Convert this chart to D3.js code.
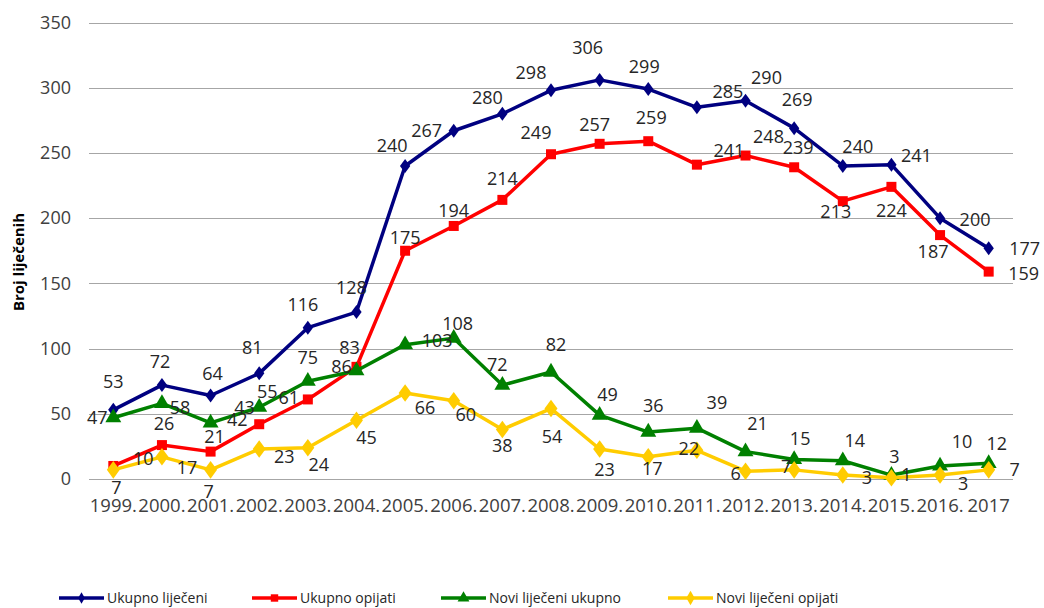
<html>
<head>
<meta charset="utf-8" />
<script src="https://cdnjs.cloudflare.com/ajax/libs/d3/7.8.5/d3.min.js"></script>
<style>
	body { margin: 0; background: #fff; }
	text { font-family: "Open Sans", sans-serif; }
</style>
</head>
<body>
<div id="chart"></div>
<script>

// ---- data ----
var years = ["1999.", "2000.", "2001.", "2002.", "2003.", "2004.", "2005.", "2006.", "2007.", "2008.",
	"2009.", "2010.", "2011.", "2012.", "2013.", "2014.", "2015.", "2016.", "2017"];

var ukupnoLijeceni = [53, 72, 64, 81, 116, 128, 240, 267, 280, 298, 306, 299, 285, 290, 269, 240, 241, 200, 177];
var ukupnoOpijati  = [10, 26, 21, 42, 61, 86, 175, 194, 214, 249, 257, 259, 241, 248, 239, 213, 224, 187, 159];
var noviUkupno     = [47, 58, 43, 55, 75, 83, 103, 108, 72, 82, 49, 36, 39, 21, 15, 14, 3, 10, 12];
var noviOpijati    = [7, 17, 7, 23, 24, 45, 66, 60, 38, 54, 23, 17, 22, 6, 7, 3, 1, 3, 7];

var seriesNames = ["Ukupno liječeni", "Ukupno opijati", "Novi liječeni ukupno", "Novi liječeni opijati"];
var yTicks = [0, 50, 100, 150, 200, 250, 300, 350];

// label nudges (dx, dy) as they sit in the original, one per point
var labelNudge = [
	[[0,-28],[-2,-23],[2,-22],[-7,-26],[-5,-23],[-5,-24],[-13,-20],[-27,0],[-15,-16],[-20,-18],
	 [-12,-32],[-4,-22],[31,-16],[21,-23],[3,-28],[15,-19],[25,-9],[35,2],[36,1]],
	[[30,-7],[2,-21],[4,-15],[-22,-5],[-19,-2],[-15,0],[0,-13],[0,-15],[0,-21],[-15,-22],
	 [-5,-19],[3,-23],[32,-14],[23,-19],[4,-20],[-7,11],[0,24],[-7,17],[35,2]],
	[[-16,0],[18,4],[34,-15],[8,-16],[0,-23],[-7,-23],[32,-4],[4,-14],[-5,-20],[5,-27],
	 [8,-20],[5,-26],[20,-25],[12,-28],[6,-21],[12,-20],[3,-18],[22,-24],[8,-20]],
	[[3,18],[25,11],[-2,22],[25,8],[11,17],[10,17],[20,15],[12,14],[0,16],[1,28],
	 [5,21],[4,12],[-8,-2],[-10,3],[-8,-3],[24,3],[15,-3],[23,9],[26,0]]
];

var colors = ["#000080", "#ff0000", "#008000", "#ffcc00"];
var symbols = [d3.symbolDiamond, d3.symbolSquare, d3.symbolTriangle, d3.symbolDiamond];
var symSizes = [70, 100, 110, 110];

var allSeries = [ukupnoLijeceni, ukupnoOpijati, noviUkupno, noviOpijati];

var W = 1044, H = 608;
var plotLeft = 89, plotRight = 1013, plotTop = 22.5, plotBottom = 479;

var svg = d3.select("#chart").append("svg")
	.attr("width", W)
	.attr("height", H);

var x = d3.scaleBand()
	.domain(years)
	.range([plotLeft, plotRight]);

var y = d3.scaleLinear()
	.domain([0, 350])
	.range([plotBottom, plotTop]);

var cx = function(i){ return x(years[i]) + x.bandwidth()/2; };

// gridlines
svg.append("g")
	.selectAll("line")
	.data(yTicks)
	.enter()
	.append("line")
	.attr("x1", plotLeft)
	.attr("x2", plotRight)
	.attr("y1", function(d){ return Math.round(y(d)) + 0.5; })
	.attr("y2", function(d){ return Math.round(y(d)) + 0.5; })
	.style("stroke", "#a6a6a6")
	.style("stroke-width", 1);

// y axis labels
var yAxis = d3.axisLeft(y).tickValues(yTicks).tickSize(0).tickPadding(18);
var gy = svg.append("g")
	.attr("transform", "translate(" + plotLeft + ",0)")
	.call(yAxis);
gy.select(".domain").remove();
gy.selectAll("text")
	.style("font-size", "18px")
	.style("font-family", "'Open Sans', sans-serif")
	.style("fill", "#404040");

// x axis labels
var xAxis = d3.axisBottom(x).tickSize(0).tickPadding(20);
var gx = svg.append("g")
	.attr("transform", "translate(0," + plotBottom + ")")
	.call(xAxis);
gx.select(".domain").remove();
gx.selectAll("text")
	.style("font-size", "18.5px")
	.style("font-family", "'Open Sans', sans-serif")
	.style("fill", "#404040");

// y title
svg.append("text")
	.attr("transform", "translate(23.5,262) rotate(-90)")
	.attr("text-anchor", "middle")
	.style("font-size", "15px")
	.style("font-weight", "bold")
	.style("fill", "#000")
	.text("Broj liječenih");

var line = d3.line()
	.x(function(d, i){ return cx(i); })
	.y(function(d){ return y(d); });

allSeries.forEach(function(vals, s){
	var g = svg.append("g");
	g.append("path")
		.attr("d", line(vals))
		.style("fill", "none")
		.style("stroke", colors[s])
		.style("stroke-width", 3.5)
		.style("stroke-linejoin", "round");

	g.selectAll("path.m")
		.data(vals)
		.enter()
		.append("path")
		.attr("class", "m")
		.attr("d", d3.symbol().type(symbols[s]).size(symSizes[s]))
		.attr("transform", function(d, i){
			var sc = s == 0 || s == 3 ? " scale(1.15,0.9)" : "";
			return "translate(" + cx(i) + "," + y(d) + ")" + sc;
		})
		.style("fill", colors[s]);
});

// data labels on top
allSeries.forEach(function(vals, s){
	svg.append("g")
		.selectAll("text")
		.data(vals)
		.enter()
		.append("text")
		.attr("x", function(d, i){ return cx(i) + labelNudge[s][i][0]; })
		.attr("y", function(d, i){ return y(d) + labelNudge[s][i][1]; })
		.attr("dy", "0.35em")
		.attr("text-anchor", "middle")
		.style("font-size", "18px")
		.style("fill", "#262626")
		.text(function(d){ return d; });
});

// legend
var legX = [59, 252, 441, 668];
var leg = svg.append("g").attr("transform", "translate(0,598)");
seriesNames.forEach(function(name, s){
	var it = leg.append("g").attr("transform", "translate(" + legX[s] + ",0)");
	it.append("line")
		.attr("x1", 0).attr("x2", 45)
		.attr("y1", 0).attr("y2", 0)
		.style("stroke", colors[s])
		.style("stroke-width", 3.5);
	it.append("path")
		.attr("d", d3.symbol().type(symbols[s]).size(symSizes[s]*0.55))
		.attr("transform", "translate(22.5,0)")
		.style("fill", colors[s]);
	it.append("text")
		.attr("x", 48)
		.attr("dy", "0.35em")
		.style("font-size", "14px")
		.style("fill", "#262626")
		.text(name);
});

</script>
</body>
</html>
